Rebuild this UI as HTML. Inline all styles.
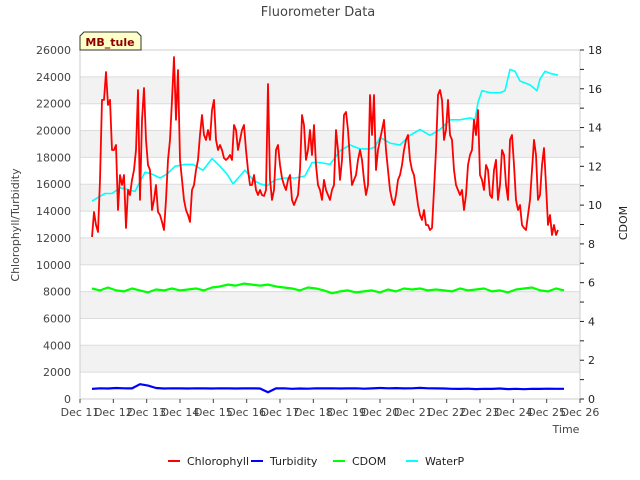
<!DOCTYPE html>
<html><head><meta charset="utf-8"><style>
body{margin:0;background:#fff;}
svg{display:block;font-family:"DejaVu Sans","Liberation Sans",sans-serif;}
</style></head><body>
<svg id="chart" width="640" height="480">
<text x="318" y="16" font-size="13" fill="#444" text-anchor="middle">Fluorometer Data</text>
<g id="bands"></g>
<g id="axes"></g>
<g id="series"></g>
<text x="19" y="225" font-size="11" fill="#444" text-anchor="middle" transform="rotate(-90 19 225)">Chlorophyll/Turbidity</text>
<text x="627" y="223" font-size="11" fill="#222" text-anchor="middle" transform="rotate(-90 627 223)">CDOM</text>
<text x="566" y="433" font-size="11" fill="#444" text-anchor="middle">Time</text>
<g>
<path d="M80,50 L80,36 L84,32 L137,32 L141,36 L141,50 Z" fill="#ffffc8" stroke="#333" stroke-width="1"/>
<text x="110" y="46" font-size="11" font-weight="bold" fill="#8b0000" text-anchor="middle">MB_tule</text>
</g>
<g id="legend"></g>
</svg>
<script>
const chlStart = 11.36, chlStep = 0.06;
const chl = [12070,13930,12960,12440,16320,22280,22280,24360,21900,22280,18550,18550,18920,14080,16690,15940,16690,12740,15570,15200,16320,17060,18550,23020,14830,20790,23170,19300,17430,17060,14080,14830,15940,13930,13710,13190,12590,14830,17810,19300,22280,25480,20790,24510,17810,16320,14830,14080,13710,13190,15570,15940,17060,17810,19670,21160,19670,19300,20040,19300,21530,22280,19300,18550,18920,18550,17950,17810,17950,18180,17810,20410,20040,18550,19300,20040,20410,18550,17060,15940,15940,16690,15570,15200,15570,15200,15120,15570,23470,16320,14830,15570,18550,18920,17430,16460,15940,15570,16320,16690,14830,14450,14830,15200,17060,21160,20410,17810,18550,20040,18180,20410,17430,15940,15570,14830,16320,15570,15200,14830,15570,15940,20040,18550,16320,17810,21160,21380,20040,17810,15940,16320,16690,17810,18550,17810,16320,15200,15940,22650,19670,22650,17060,18550,19300,20040,20790,18550,17060,15570,14830,14450,15200,16320,16690,17430,18550,19300,19670,17810,17060,16690,15570,14450,13710,13340,14080,12960,12960,12590,12740,15570,18550,22650,23020,22280,19300,20040,22280,19670,19300,17060,15940,15570,15200,15570,14080,15200,17430,18180,18550,20790,19670,21530,16690,16320,15570,17430,17060,15200,14980,17060,17810,14830,15940,18550,18180,15940,14830,19300,19670,17430,14830,14080,14450,12960,12740,12590,13710,14830,17060,19300,18180,14830,15200,17430,18700,15940,12960,13710,12220,12960,12220,12590];
const wpTimes = [11.36,11.54,11.75,11.96,12.2,12.44,12.65,12.8,12.95,13.16,13.4,13.61,13.85,14.15,14.39,14.69,14.96,15.2,15.41,15.59,15.8,15.95,16.19,16.4,16.61,16.85,17.15,17.45,17.75,17.96,18.2,18.5,18.8,19.1,19.4,19.7,19.85,20.0,20.3,20.6,20.9,21.2,21.5,21.8,22.1,22.4,22.7,22.85,22.94,23.06,23.3,23.6,23.75,23.9,24.05,24.2,24.5,24.71,24.8,24.95,25.1,25.34];
const waterP = [10.2,10.4,10.6,10.6,10.9,10.8,10.7,11.2,11.7,11.6,11.4,11.6,12.0,12.1,12.1,11.8,12.4,12.0,11.6,11.1,11.5,11.8,11.3,11.1,11.0,11.3,11.4,11.4,11.5,12.2,12.2,12.1,12.8,13.1,12.9,12.9,13.0,13.5,13.2,13.1,13.6,13.9,13.6,13.9,14.4,14.4,14.5,14.4,15.3,15.9,15.8,15.8,15.9,17.0,16.9,16.4,16.2,15.9,16.5,16.9,16.8,16.7];
const gridStart = 11.36, gridStep = 0.24;
const cdom = [5.7,5.6,5.75,5.6,5.55,5.7,5.6,5.5,5.65,5.6,5.7,5.6,5.65,5.7,5.6,5.75,5.8,5.9,5.85,5.95,5.9,5.85,5.9,5.8,5.75,5.7,5.6,5.75,5.7,5.6,5.45,5.55,5.6,5.5,5.55,5.6,5.5,5.65,5.55,5.7,5.65,5.7,5.6,5.65,5.6,5.55,5.7,5.6,5.65,5.7,5.55,5.6,5.5,5.65,5.7,5.75,5.6,5.55,5.7,5.6];
const turbidity = [750,800,780,820,800,790,1100,1000,820,780,800,790,780,800,790,780,800,790,780,790,800,780,500,790,800,760,780,770,800,790,800,780,790,800,770,790,820,800,810,790,800,830,800,790,780,760,750,770,740,760,750,780,740,760,730,760,750,770,760,760];
const leftTicks = [0,2000,4000,6000,8000,10000,12000,14000,16000,18000,20000,22000,24000,26000];
const rightTicks = [0,2,4,6,8,10,12,14,16,18];
const dayTicks = [11,12,13,14,15,16,17,18,19,20,21,22,23,24,25,26];
const legendNames = ["Chlorophyll","Turbidity","CDOM","WaterP"];
const legendColors = ["#ff0000","#0000ff","#00ff00","#00ffff"];

const X0=80,X1=580,Y0=399,Y1=50;
const xs = d => X0 + (d-11)/(26-11)*(X1-X0);
const yl = v => Y0 - v/26000*(Y0-Y1);
const yr = v => Y0 - v/18*(Y0-Y1);
const NS="http://www.w3.org/2000/svg";
function mk(tag, parent, attrs){const e=document.createElementNS(NS,tag);for(const k in attrs)e.setAttribute(k,attrs[k]);parent.appendChild(e);return e;}
const bands=document.getElementById('bands'), axes=document.getElementById('axes'), series=document.getElementById('series'), legend=document.getElementById('legend');
for(let i=0;i<leftTicks.length-1;i++){
  if(i%2===1){const b=mk('rect',bands,{x:X0,y:yl(leftTicks[i+1]),width:X1-X0,height:yl(leftTicks[i])-yl(leftTicks[i+1]),fill:'#f2f2f2'});
  
  }
}
leftTicks.forEach(v=>{
  const l=mk('line',bands,{x1:X0,x2:X1,y1:yl(v),y2:yl(v),stroke:'#dcdcdc','stroke-width':1});
  
  
  const t=mk('text',axes,{x:X0-9,y:yl(v)+4,'font-size':11,fill:'#444','text-anchor':'end'});t.textContent=v;
  
  
});
mk('rect',axes,{x:X0,y:Y1,width:X1-X0,height:Y0-Y1,fill:'none',stroke:'#ccc'});
rightTicks.forEach(v=>{
  mk('line',axes,{x1:X1,x2:X1+4,y1:yr(v),y2:yr(v),stroke:'#222'});
  if(v<18) mk('line',axes,{x1:X1,x2:X1+4,y1:yr(v+1),y2:yr(v+1),stroke:'#222'});
  const t=mk('text',axes,{x:X1+8,y:yr(v)+4,'font-size':11,fill:'#222'});t.textContent=v;
  
  
});
dayTicks.forEach(d=>{
  mk('line',axes,{x1:xs(d),x2:xs(d),y1:Y0,y2:Y0+4,stroke:'#444'});
  const t=mk('text',axes,{x:xs(d),y:Y0+17,'font-size':11,fill:'#444','text-anchor':'middle'});t.textContent='Dec '+d;
  
  
});
function line(pts,color,w,name){
  const p=mk('polyline',series,{points:pts.map(a=>a[0].toFixed(1)+','+a[1].toFixed(1)).join(' '),fill:'none',stroke:color,'stroke-width':w,'stroke-linejoin':'round'});
  
  
}
line(waterP.map((v,i)=>[xs(wpTimes[i]),yr(v)]),'#00ffff',1.6,'waterp-line');
line(cdom.map((v,i)=>[xs(gridStart+i*gridStep),yr(v)]),'#00ff00',2.2,'cdom-line');
line(turbidity.map((v,i)=>[xs(gridStart+i*gridStep),yl(v)]),'#0000ff',2.2,'turbidity-line');
line(chl.map((v,i)=>[xs(chlStart+i*chlStep),yl(v)]),'#ff0000',1.8,'chlorophyll-line');
const lx=[168,251,333,406];
legendNames.forEach((n,i)=>{
  mk('line',legend,{x1:lx[i],x2:lx[i]+12,y1:461,y2:461,stroke:legendColors[i],'stroke-width':2});
  const t=mk('text',legend,{x:lx[i]+19,y:465,'font-size':11,fill:'#222'});t.textContent=n;
  
  
});
</script>
</body></html>
